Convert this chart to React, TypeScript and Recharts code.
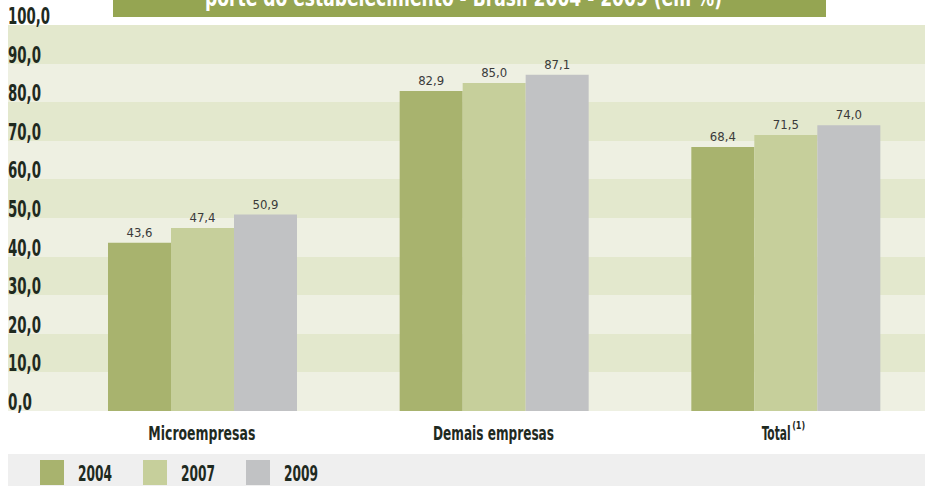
import { BarChart, Bar, XAxis, YAxis, CartesianGrid, LabelList } from "recharts"

const categories = ["Microempresas", "Demais empresas", "Total"]
const values2004 = [43.6, 82.9, 68.4]
const values2007 = [47.4, 85.0, 71.5]
const values2009 = [50.9, 87.1, 74.0]
const yTicks = [0, 10, 20, 30, 40, 50, 60, 70, 80, 90, 100]
const years = ["2004", "2007", "2009"]

const colors = ["#a8b36e", "#c6cf9b", "#c1c2c4"]
const condensed = "'Liberation Sans Narrow', 'DejaVu Sans Condensed', 'Liberation Sans', sans-serif"

const data = categories.map((name, i) => ({
    name,
    y2004: values2004[i],
    y2007: values2007[i],
    y2009: values2009[i],
}))

const fmt = (v: number) => v.toFixed(1).replace(".", ",")

// rough widths of the condensed bold face in the original
const boldWidth = (s: string) =>
    s.split("").reduce((w, c) => w + (c === "," ? 6 : 9), 0)

const catWidth: Record<string, number> = {
    "Microempresas": 107,
    "Demais empresas": 121,
    "Total": 29,
}

function YTick(props: any) {
    const { y, payload } = props
    const label = fmt(payload.value)
    return (
        <text x={8} y={y - 1} textAnchor="start" fontFamily={condensed} fontWeight="bold" fontSize={23}
            fill="#1f2a1f" textLength={boldWidth(label)} lengthAdjust="spacingAndGlyphs">
            {label}
        </text>
    )
}

function XTick(props: any) {
    const { x, payload } = props
    const name = payload.value as string
    const w = catWidth[name] ?? 100
    if (name === "Total") {
        return (
            <g>
                <text x={x - 9} y={440} textAnchor="middle" fontFamily={condensed} fontWeight="bold"
                    fontSize={19} fill="#1f2a1f" textLength={w} lengthAdjust="spacingAndGlyphs">
                    Total
                </text>
                <text x={x + 7} y={429} fontFamily={condensed} fontWeight="bold" fontSize={10}
                    fill="#1f2a1f" textLength={13} lengthAdjust="spacingAndGlyphs">
                    (1)
                </text>
            </g>
        )
    }
    return (
        <text x={x} y={440} textAnchor="middle" fontFamily={condensed} fontWeight="bold"
            fontSize={19} fill="#1f2a1f" textLength={w} lengthAdjust="spacingAndGlyphs">
            {name}
        </text>
    )
}

function ValueLabel(props: any) {
    const { x, y, width, value } = props
    return (
        <text x={x + width / 2} y={y - 6} textAnchor="middle" fontFamily={condensed}
            fontSize={13} fill="#3a3a3a">
            {fmt(value)}
        </text>
    )
}

export default function App() {
    return (
        <div style={{ position: "absolute", left: 0, top: 0, width: 925, height: 486, overflow: "hidden", background: "#fff" }}>
            <BarChart width={931} height={486} data={data}
                margin={{ top: 25, right: 0, bottom: 45, left: 8 }}
                barCategoryGap={52} barGap={0}>
                <CartesianGrid vertical={false} stroke="none"
                    horizontalFill={["#e3e8cd", "#eef0e2"]} />
                <XAxis dataKey="name" height={30} axisLine={false} tickLine={false}
                    padding={{ left: 48, right: 0 }} tick={<XTick />} interval={0} />
                <YAxis mirror width={60} domain={[0, 100]} ticks={yTicks} axisLine={false}
                    tickLine={false} tick={<YTick />} interval={0} />
                <Bar dataKey="y2004" fill={colors[0]} isAnimationActive={false}>
                    <LabelList dataKey="y2004" content={<ValueLabel />} />
                </Bar>
                <Bar dataKey="y2007" fill={colors[1]} isAnimationActive={false}>
                    <LabelList dataKey="y2007" content={<ValueLabel />} />
                </Bar>
                <Bar dataKey="y2009" fill={colors[2]} isAnimationActive={false}>
                    <LabelList dataKey="y2009" content={<ValueLabel />} />
                </Bar>
            </BarChart>

            {/* title bar, cut off at the top like the source */}
            <svg width={925} height={20} style={{ position: "absolute", left: 0, top: 0 }}>
                <rect x={113} y={0} width={713} height={17} fill="#95a552" />
                <text x={205} y={6} fontFamily={condensed} fontWeight="bold" fontSize={24}
                    fill="#fff" textLength={517} lengthAdjust="spacingAndGlyphs">
                    porte do estabelecimento - Brasil 2004 - 2009 (em %)
                </text>
            </svg>

            {/* legend */}
            <svg width={925} height={32} style={{ position: "absolute", left: 0, top: 454 }}>
                <rect x={8} y={0} width={917} height={32} fill="#efefef" />
                {years.map((yr, i) => {
                    const x0 = 40 + i * 103
                    return (
                        <g key={yr}>
                            <rect x={x0} y={6} width={24} height={25} fill={colors[i]} />
                            <text x={x0 + 38} y={27} fontFamily={condensed} fontWeight="bold"
                                fontSize={22} fill="#1f2a1f" textLength={34}
                                lengthAdjust="spacingAndGlyphs">
                                {yr}
                            </text>
                        </g>
                    )
                })}
            </svg>
        </div>
    )
}
